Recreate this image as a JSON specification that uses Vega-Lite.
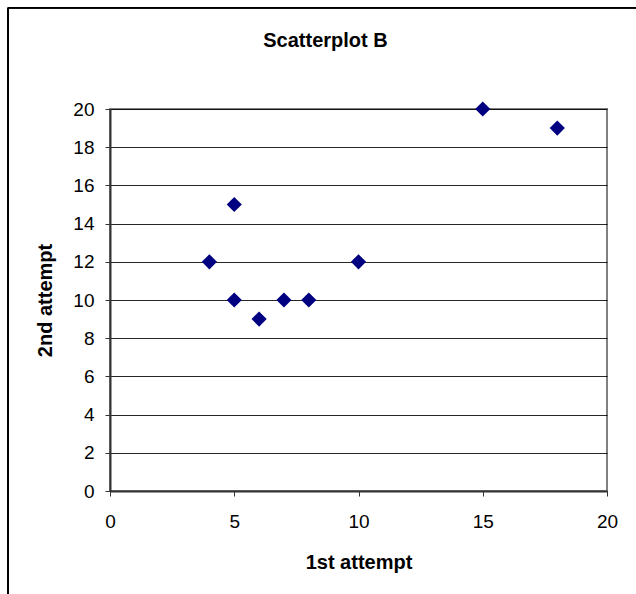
{
  "$schema": "https://vega.github.io/schema/vega-lite/v6.json",
  "width": 497,
  "height": 382,
  "autosize": "none",
  "padding": {"left": 110, "top": 109, "right": 29, "bottom": 103},
  "background": "white",
  "title": {
    "text": "Scatterplot B",
    "font": "Liberation Sans",
    "fontSize": 20,
    "fontWeight": "bold",
    "color": "black",
    "anchor": "middle",
    "frame": "group",
    "baseline": "alphabetic",
    "dx": -33,
    "dy": 60,
    "offset": 0
  },
  "config": {
    "view": {"stroke": "#808080", "strokeWidth": 2},
    "axis": {
      "labelFont": "Liberation Sans",
      "labelFontSize": 19,
      "labelColor": "black",
      "labelOverlap": false,
      "labelFlush": false,
      "titleFont": "Liberation Sans",
      "titleFontSize": 20,
      "titleFontWeight": "bold",
      "titleColor": "black",
      "domainColor": "#333333",
      "domainWidth": 2,
      "tickColor": "#333333",
      "tickWidth": 1,
      "tickSize": 5
    }
  },
  "data": {
    "values": [
      {"first": 4, "second": 12},
      {"first": 5, "second": 15},
      {"first": 5, "second": 10},
      {"first": 6, "second": 9},
      {"first": 7, "second": 10},
      {"first": 8, "second": 10},
      {"first": 10, "second": 12},
      {"first": 15, "second": 20},
      {"first": 18, "second": 19}
    ]
  },
  "layer": [
    {
      "mark": {"type": "point", "shape": "diamond", "filled": true, "color": "#000080", "opacity": 1, "size": 230},
      "encoding": {
        "x": {
          "field": "first",
          "type": "quantitative",
          "title": "1st attempt",
          "scale": {"domain": [0, 20], "nice": false, "zero": true},
          "axis": {
            "values": [0, 5, 10, 15, 20],
            "tickCount": 20,
            "grid": false,
            "labelPadding": 16,
            "titleY": 71,
            "titleBaseline": "middle"
          }
        },
        "y": {
          "field": "second",
          "type": "quantitative",
          "title": "2nd attempt",
          "scale": {"domain": [0, 20], "nice": false},
          "axis": {
            "values": [0, 2, 4, 6, 8, 10, 12, 14, 16, 18, 20],
            "tickCount": 20,
            "grid": true,
            "gridColor": "black",
            "gridWidth": 1,
            "gridOpacity": 0.85,
            "labelPadding": 11,
            "titleX": -65,
            "titleY": 191,
            "titleBaseline": "middle"
          }
        }
      }
    },
    {
      "mark": {"type": "rule", "clip": false, "color": "black", "strokeWidth": 1},
      "encoding": {
        "x": {"datum": -4.1, "type": "quantitative"},
        "y": {"datum": 25.3, "type": "quantitative"},
        "y2": {"datum": -7}
      }
    },
    {
      "mark": {"type": "rule", "clip": false, "color": "black", "strokeWidth": 1},
      "encoding": {
        "x": {"datum": -4.1, "type": "quantitative"},
        "x2": {"datum": 23},
        "y": {"datum": 25.3, "type": "quantitative"}
      }
    }
  ]
}
